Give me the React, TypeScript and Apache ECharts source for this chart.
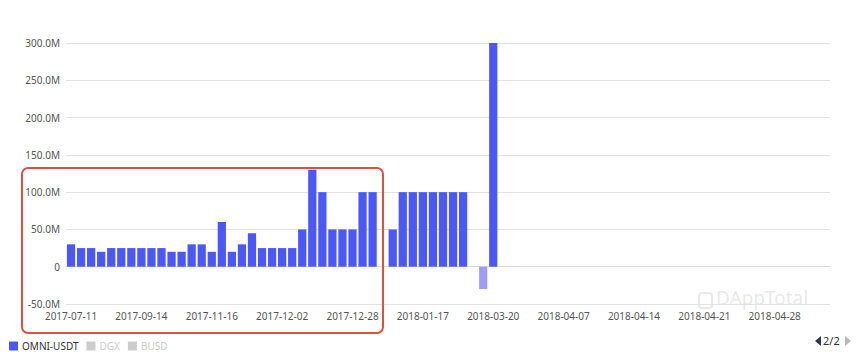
import React, { useEffect, useRef } from "react";
import * as echarts from "echarts";

const categories: string[] = [
  "2017-07-11", "2017-07-20", "2017-07-28", "2017-08-05", "2017-08-14", "2017-08-23", "2017-09-03",
  "2017-09-14", "2017-09-22", "2017-09-30", "2017-10-09", "2017-10-18", "2017-10-27", "2017-11-06",
  "2017-11-16", "2017-11-18", "2017-11-20", "2017-11-22", "2017-11-25", "2017-11-27", "2017-11-29",
  "2017-12-02", "2017-12-05", "2017-12-09", "2017-12-12", "2017-12-15", "2017-12-18", "2017-12-22",
  "2017-12-28", "2017-12-30", "2018-01-02", "2018-01-05", "2018-01-08", "2018-01-11", "2018-01-14",
  "2018-01-17", "2018-01-26", "2018-02-04", "2018-02-13", "2018-02-22", "2018-03-03", "2018-03-12",
  "2018-03-20", "2018-03-23", "2018-03-26", "2018-03-28", "2018-03-31", "2018-04-02", "2018-04-05",
  "2018-04-07", "2018-04-08", "2018-04-09", "2018-04-10", "2018-04-11", "2018-04-12", "2018-04-13",
  "2018-04-14", "2018-04-15", "2018-04-16", "2018-04-17", "2018-04-18", "2018-04-19", "2018-04-20",
  "2018-04-21", "2018-04-22", "2018-04-23", "2018-04-24", "2018-04-25", "2018-04-26", "2018-04-27",
  "2018-04-28", "2018-04-29", "2018-04-30", "2018-05-01", "2018-05-02", "2018-05-03",
];

// values in millions of USDT
const omniUsdtM: (number | null)[] = [
  30, 25, 25, 20, 25, 25, 25,
  25, 25, 25, 20, 20, 30, 30,
  20, 60, 20, 30, 45, 25, 25,
  25, 25, 50, 130, 100, 50, 50,
  50, 100, 100, null, 50, 100, 100,
  100, 100, 100, 100, 100, null, -30,
  300, null, null, null, null, null, null,
  null, null, null, null, null, null, null,
  null, null, null, null, null, null, null,
  null, null, null, null, null, null, null,
  null, null, null, null, null, null,
];

const dgxM: (number | null)[] = [];
const busdM: (number | null)[] = [];

const seriesNames = ["OMNI-USDT", "DGX", "BUSD"];

export default function App() {
  const ref = useRef<HTMLDivElement>(null);
  useEffect(() => {
    if (!ref.current) return;
    const chart = echarts.init(ref.current, null, { renderer: "svg" });
    const toData = (arr: (number | null)[]) =>
      arr.map((v) =>
        v === null
          ? null
          : v < 0
          ? { value: v * 1e6, itemStyle: { color: "#9d9ef6" } }
          : v * 1e6
      );
    chart.setOption({
      animation: false,
      grid: { left: 66, right: 35, top: 43, bottom: 56 },
      legend: {
        data: seriesNames,
        left: 4,
        top: 336,
        icon: "rect",
        itemWidth: 9,
        itemHeight: 9,
        itemGap: 8,
        textStyle: { fontSize: 10, color: "#333", fontFamily: "Noto Sans", padding: [0, 0, 0, -1] },
        inactiveColor: "#ccc",
        selected: { "OMNI-USDT": true, DGX: false, BUSD: false },
      },
      xAxis: {
        type: "category",
        data: categories,
        axisTick: { show: false },
        axisLine: { lineStyle: { color: "#d9d9d9" } },
        axisLabel: {
          interval: 6,
          color: "#555",
          fontSize: 10,
          margin: 7,
          fontFamily: "Noto Sans",
        },
      },
      yAxis: {
        type: "value",
        min: -50e6,
        max: 300e6,
        interval: 50e6,
        axisLine: { show: false },
        axisTick: { show: false },
        splitLine: { lineStyle: { color: "#e3e3e3" } },
        axisLabel: {
          color: "#555",
          fontSize: 10,
          margin: 6,
          fontFamily: "Noto Sans",
          formatter: (v: number) => (v === 0 ? "0" : (v / 1e6).toFixed(1) + "M"),
        },
      },
      series: [
        {
          name: "OMNI-USDT",
          type: "bar",
          data: toData(omniUsdtM),
          barWidth: "82%",
          itemStyle: { color: "#4b58f5" },
        },
        { name: "DGX", type: "bar", data: toData(dgxM), itemStyle: { color: "#e8a33d" } },
        { name: "BUSD", type: "bar", data: toData(busdM), itemStyle: { color: "#3cc08a" } },
      ],
      graphic: [
        {
          type: "rect",
          shape: { x: 22, y: 168, width: 361, height: 165, r: 6 },
          style: { fill: "none", stroke: "#e0503f", lineWidth: 2 },
          z: 100,
        },
        {
          type: "line",
          shape: { x1: 830, y1: 3, x2: 853, y2: 3 },
          style: { stroke: "#3a4fd8", lineWidth: 2 },
        },
        {
          type: "text",
          x: 716,
          y: 288,
          style: {
            text: "DAppTotal",
            fontSize: 19,
            fontFamily: "Noto Sans",
            fill: "rgba(150,150,150,0.22)",
          },
        },
        {
          type: "rect",
          shape: { x: 699, y: 293, width: 13, height: 15, r: 3 },
          style: { fill: "none", stroke: "rgba(150,150,150,0.22)", lineWidth: 2 },
        },
        {
          type: "polygon",
          shape: { points: [[821, 336], [821, 346], [815, 341]] },
          style: { fill: "#2f3a4a" },
        },
        {
          type: "text",
          x: 823,
          y: 335,
          style: { text: "2/2", fontSize: 11, fontFamily: "Noto Sans", fill: "#333" },
        },
        {
          type: "polygon",
          shape: { points: [[845, 336], [845, 346], [851, 341]] },
          style: { fill: "#b8b8b8" },
        },
      ],
    });
    return () => chart.dispose();
  }, []);
  return <div ref={ref} style={{ width: 865, height: 360, margin: -8 }} />;
}
